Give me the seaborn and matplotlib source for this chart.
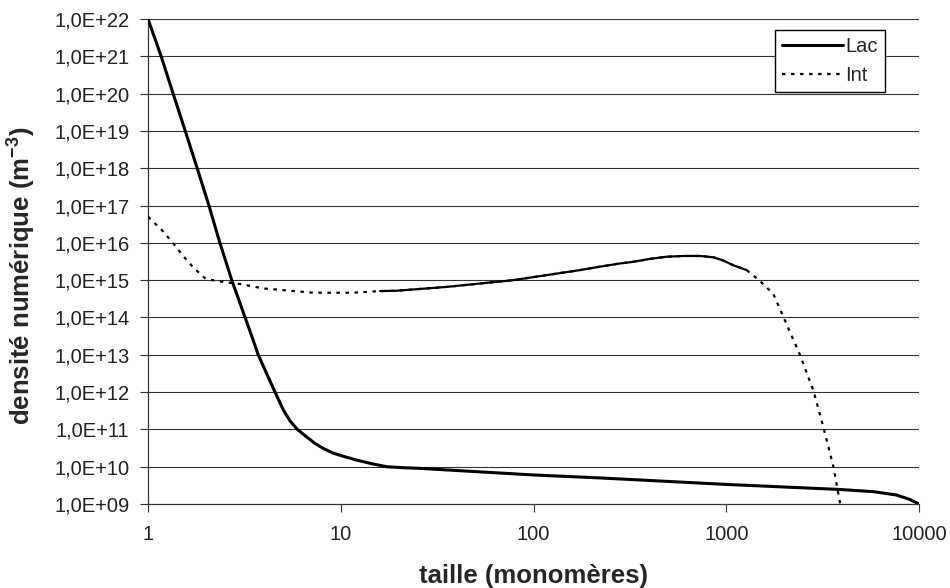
import numpy as np
import pandas as pd
import seaborn as sns
from matplotlib import pyplot as plt
from matplotlib.ticker import FixedLocator, FixedFormatter, NullLocator

# taille des agrégats (monomères) et densités
lac_x = [1, 1.17, 1.35, 1.56, 1.8, 2.07, 2.36, 2.72, 3.19, 3.5, 3.73, 4.13, 4.56, 5.04,
         5.45, 5.95, 6.6, 7.35, 8.2, 9.15, 10.5, 12.1, 14.5, 17.3, 21, 25.8, 41.6,
         100, 221, 1000, 3890, 5800, 7650, 8970, 10000]
lac_y = [1.0e22, 1.0e21, 1.0e20, 1.0e19, 1.0e18, 1.0e17, 1.0e16, 1.0e15, 1.0e14,
         2.6e13, 1.0e13, 3.1e12, 1.0e12, 3.3e11, 1.7e11, 1.0e11, 6.5e10, 4.2e10,
         3.0e10, 2.3e10, 1.85e10, 1.5e10, 1.2e10, 1.0e10, 9.4e9, 9.0e9, 7.8e9,
         6.0e9, 5.0e9, 3.35e9, 2.45e9, 2.14e9, 1.74e9, 1.32e9, 1.0e9]

int_x = [1, 1.18, 1.35, 1.52, 1.73, 2.0, 2.41, 3.0, 3.96, 5.04, 7.2, 11.6, 16,
         19.5, 35.5, 78.5, 174, 221, 281, 330, 400, 491, 600, 731, 857, 960, 1089,
         1276, 1496, 1754, 1977, 2410, 2831, 3214, 3597, 3900]
int_y = [5.0e16, 2.2e16, 9.8e15, 4.5e15, 2.1e15, 1.07e15, 9.1e14, 7.9e14, 6.0e14,
         5.4e14, 4.6e14, 4.6e14, 5.1e14, 5.2e14, 6.6e14, 1.0e15, 1.86e15, 2.3e15,
         2.8e15, 3.1e15, 3.7e15, 4.25e15, 4.45e15, 4.45e15, 4.1e15, 3.4e15, 2.5e15,
         1.86e15, 9.5e14, 4.3e14, 1.05e14, 1.0e13, 1.1e12, 1.0e11, 1.0e10, 1.0e9]

x_ticks = [1, 10, 100, 1000, 10000]
x_tick_labels = ['1', '10', '100', '1000', '10000']
y_ticks = [1e9, 1e10, 1e11, 1e12, 1e13, 1e14, 1e15, 1e16, 1e17, 1e18, 1e19, 1e20, 1e21, 1e22]
y_tick_labels = ['1,0E+09', '1,0E+10', '1,0E+11', '1,0E+12', '1,0E+13', '1,0E+14',
                 '1,0E+15', '1,0E+16', '1,0E+17', '1,0E+18', '1,0E+19', '1,0E+20',
                 '1,0E+21', '1,0E+22']

sns.set_style('white')
plt.rcParams['font.family'] = ['Liberation Sans', 'DejaVu Sans']
plt.rcParams['mathtext.fontset'] = 'custom'
plt.rcParams['mathtext.rm'] = 'Liberation Sans'
plt.rcParams['mathtext.bf'] = 'Liberation Sans:bold'
plt.rcParams['lines.scale_dashes'] = False
narrow = ['Liberation Sans Narrow', 'Liberation Sans', 'DejaVu Sans']

df_lac = pd.DataFrame({'taille': lac_x, 'densite': lac_y})
df_int = pd.DataFrame({'taille': int_x, 'densite': int_y})
# partie dense de la courbe Int : Excel la rend pleine
df_int_mid = df_int[(df_int.taille >= 12) & (df_int.taille <= 1400)]

fig = plt.figure(figsize=(9.5, 5.88), dpi=100)
ax = fig.add_axes([148 / 950, 1 - 504 / 588, 771 / 950, 485 / 588])
ax.set(xscale='log', yscale='log')

grid_col = '#333333'
for yt in y_ticks[1:]:
    ax.axhline(yt, color=grid_col, lw=0.8, zorder=1)

sns.lineplot(data=df_lac, x='taille', y='densite', ax=ax, color='black', lw=2.2,
             label='Lac', estimator=None, zorder=3)
sns.lineplot(data=df_int, x='taille', y='densite', ax=ax, color='black', lw=1.6,
             linestyle=(0, (2.5, 4.0)), label='Int', estimator=None, zorder=3)
sns.lineplot(data=df_int_mid, x='taille', y='densite', ax=ax, color='black', lw=1.6,
             legend=False, estimator=None, zorder=3)

ax.set_xlim(1, 10000)
ax.set_ylim(1e9, 1e22)
ax.xaxis.set_major_locator(FixedLocator(x_ticks))
ax.xaxis.set_major_formatter(FixedFormatter(x_tick_labels))
ax.yaxis.set_major_locator(FixedLocator(y_ticks))
ax.yaxis.set_major_formatter(FixedFormatter(y_tick_labels))
ax.xaxis.set_minor_locator(NullLocator())
ax.yaxis.set_minor_locator(NullLocator())

ax.tick_params(axis='both', direction='out', length=5.5, width=0.8, color=grid_col,
               labelsize=14.5, labelcolor='#222222')
ax.tick_params(axis='x', pad=9.5, bottom=True)
ax.tick_params(axis='y', pad=8.0, left=True)
for lab in ax.get_xticklabels() + ax.get_yticklabels():
    lab.set_family(narrow)

for s in ['top', 'right']:
    ax.spines[s].set_visible(False)
for s in ['left', 'bottom']:
    ax.spines[s].set_color(grid_col)
    ax.spines[s].set_linewidth(0.9)

ax.set_xlabel('taille (monomères)', fontsize=18.5, fontweight='bold')
ax.set_ylabel(r'densité numérique (m$^{\mathbf{-3}}$)', fontsize=18.5, fontweight='bold')
ax.xaxis.set_label_coords(0.5, -0.124)
ax.yaxis.set_label_coords(-0.144, 0.47)

leg = ax.legend(loc='upper right', bbox_to_anchor=(0.956, 0.977),
                prop={'family': narrow, 'size': 14.5},
                frameon=True, fancybox=False, framealpha=1, edgecolor='black',
                handlelength=3.0, handletextpad=0.15, labelspacing=0.5,
                borderpad=0.35, borderaxespad=0)
leg.get_frame().set_linewidth(1.0)

plt.savefig('out.png', dpi=100)
